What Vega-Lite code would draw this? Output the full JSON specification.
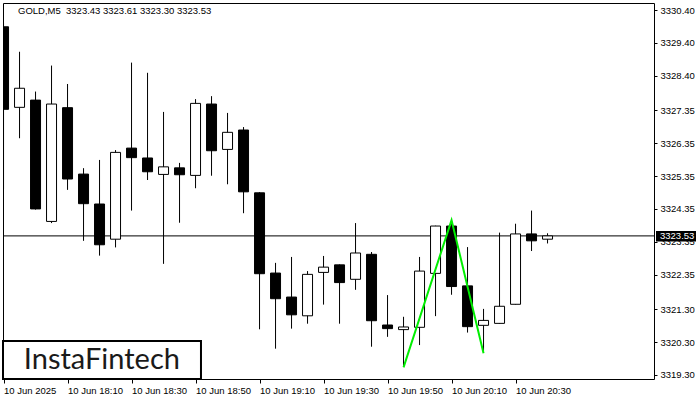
{
  "$schema": "https://vega.github.io/schema/vega-lite/v6.json",
  "width": 651,
  "height": 376,
  "autosize": "none",
  "padding": {"left": 3, "top": 3, "right": 46, "bottom": 21},
  "background": "white",
  "config": {
    "view": {"stroke": "black", "strokeWidth": 1},
    "font": "Liberation Sans",
    "scale": {"continuousPadding": 0},
    "axis": {"labelOverlap": false, "labelFlush": false, "labelBound": false},
    "axisY": {"labelOverlap": false, "labelSeparation": 0}
  },
  "title": {
    "text": "GOLD,M5\u00a0 3323.43 3323.61 3323.30 3323.53",
    "anchor": "start",
    "frame": "group",
    "offset": -17,
    "dx": 15,
    "baseline": "middle",
    "font": "Liberation Sans",
    "fontSize": 9.5,
    "fontWeight": "normal",
    "color": "black"
  },
  "datasets": {
    "candles": [
      {"t": "2025-06-10T17:50", "open": 3329.89, "high": 3330.00, "low": 3324.96, "close": 3327.38},
      {"t": "2025-06-10T17:55", "open": 3327.44, "high": 3329.13, "low": 3326.50, "close": 3328.02},
      {"t": "2025-06-10T18:00", "open": 3327.66, "high": 3327.92, "low": 3324.33, "close": 3324.35},
      {"t": "2025-06-10T18:05", "open": 3323.97, "high": 3328.71, "low": 3323.92, "close": 3327.54},
      {"t": "2025-06-10T18:10", "open": 3327.43, "high": 3328.15, "low": 3324.93, "close": 3325.26},
      {"t": "2025-06-10T18:15", "open": 3325.41, "high": 3325.59, "low": 3323.38, "close": 3324.51},
      {"t": "2025-06-10T18:20", "open": 3324.50, "high": 3325.84, "low": 3322.93, "close": 3323.26},
      {"t": "2025-06-10T18:25", "open": 3323.43, "high": 3326.14, "low": 3323.18, "close": 3326.07},
      {"t": "2025-06-10T18:30", "open": 3326.20, "high": 3328.80, "low": 3324.30, "close": 3325.91},
      {"t": "2025-06-10T18:35", "open": 3325.90, "high": 3328.49, "low": 3325.23, "close": 3325.48},
      {"t": "2025-06-10T18:40", "open": 3325.40, "high": 3327.30, "low": 3322.68, "close": 3325.63},
      {"t": "2025-06-10T18:45", "open": 3325.60, "high": 3325.75, "low": 3323.93, "close": 3325.39},
      {"t": "2025-06-10T18:50", "open": 3325.37, "high": 3327.69, "low": 3324.98, "close": 3327.56},
      {"t": "2025-06-10T18:55", "open": 3327.54, "high": 3327.78, "low": 3325.36, "close": 3326.12},
      {"t": "2025-06-10T19:00", "open": 3326.16, "high": 3327.27, "low": 3325.10, "close": 3326.68},
      {"t": "2025-06-10T19:05", "open": 3326.75, "high": 3326.84, "low": 3324.22, "close": 3324.87},
      {"t": "2025-06-10T19:10", "open": 3324.84, "high": 3324.86, "low": 3320.69, "close": 3322.38},
      {"t": "2025-06-10T19:15", "open": 3322.40, "high": 3322.71, "low": 3320.10, "close": 3321.62},
      {"t": "2025-06-10T19:20", "open": 3321.67, "high": 3322.89, "low": 3320.71, "close": 3321.13},
      {"t": "2025-06-10T19:25", "open": 3321.10, "high": 3322.46, "low": 3320.86, "close": 3322.36},
      {"t": "2025-06-10T19:30", "open": 3322.42, "high": 3322.92, "low": 3321.44, "close": 3322.58},
      {"t": "2025-06-10T19:35", "open": 3322.65, "high": 3322.66, "low": 3320.86, "close": 3322.11},
      {"t": "2025-06-10T19:40", "open": 3322.21, "high": 3323.92, "low": 3321.89, "close": 3323.01},
      {"t": "2025-06-10T19:45", "open": 3322.97, "high": 3323.04, "low": 3320.16, "close": 3320.95},
      {"t": "2025-06-10T19:50", "open": 3320.82, "high": 3321.73, "low": 3320.46, "close": 3320.71},
      {"t": "2025-06-10T19:55", "open": 3320.68, "high": 3321.07, "low": 3319.58, "close": 3320.76},
      {"t": "2025-06-10T20:00", "open": 3320.75, "high": 3322.89, "low": 3320.21, "close": 3322.46},
      {"t": "2025-06-10T20:05", "open": 3322.39, "high": 3323.84, "low": 3321.09, "close": 3323.83},
      {"t": "2025-06-10T20:10", "open": 3323.83, "high": 3324.01, "low": 3321.74, "close": 3321.99},
      {"t": "2025-06-10T20:15", "open": 3322.01, "high": 3323.19, "low": 3320.59, "close": 3320.77},
      {"t": "2025-06-10T20:20", "open": 3320.81, "high": 3321.31, "low": 3320.03, "close": 3320.96},
      {"t": "2025-06-10T20:25", "open": 3320.87, "high": 3323.63, "low": 3320.86, "close": 3321.39},
      {"t": "2025-06-10T20:30", "open": 3321.45, "high": 3323.90, "low": 3321.44, "close": 3323.59},
      {"t": "2025-06-10T20:35", "open": 3323.59, "high": 3324.30, "low": 3323.07, "close": 3323.38},
      {"t": "2025-06-10T20:40", "open": 3323.43, "high": 3323.61, "low": 3323.30, "close": 3323.53}
    ],
    "pattern": [
      {"t": "2025-06-10T19:55", "price": 3319.53},
      {"t": "2025-06-10T20:10", "price": 3324.01},
      {"t": "2025-06-10T20:20", "price": 3319.96}
    ],
    "annotation": [
      {"price": 3323.53, "label": "3323.53"}
    ],
    "logo": [
      {"logo": "InstaFintech", "start": "2025-06-10T17:49:50", "end": "2025-06-10T18:51:42", "mid": "2025-06-10T18:20:44", "bottom": 3319.178, "top": 3320.33, "base": 3319.48}
    ]
  },
  "encoding": {
    "x": {
      "field": "t",
      "type": "temporal",
      "scale": {
        "type": "time",
        "nice": false,
        "padding": 0,
        "domain": [
          {"year": 2025, "month": 6, "date": 10, "hours": 17, "minutes": 49, "seconds": 50},
          {"year": 2025, "month": 6, "date": 10, "hours": 21, "minutes": 13, "seconds": 16}
        ]
      },
      "axis": {
        "title": null,
        "orient": "bottom",
        "domain": false,
        "grid": false,
        "values": [
          {"year": 2025, "month": 6, "date": 10, "hours": 17, "minutes": 50},
          {"year": 2025, "month": 6, "date": 10, "hours": 18, "minutes": 10},
          {"year": 2025, "month": 6, "date": 10, "hours": 18, "minutes": 30},
          {"year": 2025, "month": 6, "date": 10, "hours": 18, "minutes": 50},
          {"year": 2025, "month": 6, "date": 10, "hours": 19, "minutes": 10},
          {"year": 2025, "month": 6, "date": 10, "hours": 19, "minutes": 30},
          {"year": 2025, "month": 6, "date": 10, "hours": 19, "minutes": 50},
          {"year": 2025, "month": 6, "date": 10, "hours": 20, "minutes": 10},
          {"year": 2025, "month": 6, "date": 10, "hours": 20, "minutes": 30}
        ],
        "format": "%d %b %H:%M",
        "labelExpr": "timeFormat(datum.value, '%H:%M') == '17:50' ? '10 Jun 2025' : datum.label",
        "labelAlign": "left",
        "labelBaseline": "top",
        "labelPadding": 2,
        "labelFont": "Liberation Sans",
        "labelFontSize": 9.5,
        "labelColor": "black",
        "tickSize": 4,
        "tickColor": "black"
      }
    }
  },
  "layer": [
    {
      "data": {"name": "annotation"},
      "mark": {"type": "rule", "color": "black", "strokeWidth": 1},
      "encoding": {
        "x": null,
        "y": {
          "field": "price",
          "type": "quantitative",
          "scale": {"domain": [3319.178, 3330.613], "nice": false, "zero": false},
          "axis": {"title": null, "orient": "right", "domain": false, "grid": false, "values": [3319.30, 3320.30, 3321.30, 3322.35, 3323.35, 3324.35, 3325.35, 3326.35, 3327.35, 3328.40, 3329.40, 3330.40], "format": ".2f", "labelFont": "Liberation Sans", "labelFontSize": 9.5, "labelColor": "black", "labelPadding": 3, "tickSize": 3, "tickColor": "black", "labelOverlap": false, "labelSeparation": 0}
        }
      }
    },
    {
      "data": {"name": "candles"},
      "mark": {"type": "rule", "color": "black", "strokeWidth": 1, "clip": true},
      "encoding": {
        "y": {"field": "low", "type": "quantitative", "axis": {"title": null, "orient": "right", "domain": false, "grid": false, "values": [3319.30, 3320.30, 3321.30, 3322.35, 3323.35, 3324.35, 3325.35, 3326.35, 3327.35, 3328.40, 3329.40, 3330.40], "format": ".2f", "labelFont": "Liberation Sans", "labelFontSize": 9.5, "labelColor": "black", "labelPadding": 3, "tickSize": 3, "tickColor": "black", "labelOverlap": false, "labelSeparation": 0}},
        "y2": {"field": "high"}
      }
    },
    {
      "data": {"name": "candles"},
      "mark": {"type": "bar", "size": 10, "stroke": "black", "strokeWidth": 1, "clip": true, "orient": "vertical"},
      "encoding": {
        "y": {"field": "open", "type": "quantitative", "axis": {"title": null, "orient": "right", "domain": false, "grid": false, "values": [3319.30, 3320.30, 3321.30, 3322.35, 3323.35, 3324.35, 3325.35, 3326.35, 3327.35, 3328.40, 3329.40, 3330.40], "format": ".2f", "labelFont": "Liberation Sans", "labelFontSize": 9.5, "labelColor": "black", "labelPadding": 3, "tickSize": 3, "tickColor": "black", "labelOverlap": false, "labelSeparation": 0}},
        "y2": {"field": "close"},
        "fill": {"condition": {"test": "datum.close < datum.open", "value": "black"}, "value": "white"}
      }
    },
    {
      "data": {"name": "pattern"},
      "mark": {"type": "line", "color": "#00ee00", "strokeWidth": 2, "clip": true},
      "encoding": {
        "y": {"field": "price", "type": "quantitative", "axis": {"title": null, "orient": "right", "domain": false, "grid": false, "values": [3319.30, 3320.30, 3321.30, 3322.35, 3323.35, 3324.35, 3325.35, 3326.35, 3327.35, 3328.40, 3329.40, 3330.40], "format": ".2f", "labelFont": "Liberation Sans", "labelFontSize": 9.5, "labelColor": "black", "labelPadding": 3, "tickSize": 3, "tickColor": "black", "labelOverlap": false, "labelSeparation": 0}}
      }
    },
    {
      "data": {"name": "logo"},
      "mark": {"type": "rect", "fill": "white", "stroke": "black", "strokeWidth": 2},
      "encoding": {
        "x": {"field": "start", "type": "temporal"},
        "x2": {"field": "end"},
        "y": {"field": "bottom", "type": "quantitative", "axis": {"title": null, "orient": "right", "domain": false, "grid": false, "values": [3319.30, 3320.30, 3321.30, 3322.35, 3323.35, 3324.35, 3325.35, 3326.35, 3327.35, 3328.40, 3329.40, 3330.40], "format": ".2f", "labelFont": "Liberation Sans", "labelFontSize": 9.5, "labelColor": "black", "labelPadding": 3, "tickSize": 3, "tickColor": "black", "labelOverlap": false, "labelSeparation": 0}},
        "y2": {"field": "top"}
      }
    },
    {
      "data": {"name": "logo"},
      "mark": {"type": "text", "font": "Lato", "fontSize": 29, "fontWeight": "normal", "color": "#1a1a1a", "align": "center", "baseline": "alphabetic"},
      "encoding": {
        "text": {"field": "logo"},
        "x": {"field": "mid", "type": "temporal"},
        "y": {"field": "base", "type": "quantitative", "axis": {"title": null, "orient": "right", "domain": false, "grid": false, "values": [3319.30, 3320.30, 3321.30, 3322.35, 3323.35, 3324.35, 3325.35, 3326.35, 3327.35, 3328.40, 3329.40, 3330.40], "format": ".2f", "labelFont": "Liberation Sans", "labelFontSize": 9.5, "labelColor": "black", "labelPadding": 3, "tickSize": 3, "tickColor": "black", "labelOverlap": false, "labelSeparation": 0}}
      }
    },
    {
      "data": {"name": "annotation"},
      "mark": {"type": "rect", "fill": "black", "xOffset": 2, "x2Offset": 42, "yOffset": -5, "y2Offset": 5.5},
      "encoding": {
        "x": {"value": "width"},
        "x2": {"value": "width"},
        "y": {"field": "price", "type": "quantitative", "axis": {"title": null, "orient": "right", "domain": false, "grid": false, "values": [3319.30, 3320.30, 3321.30, 3322.35, 3323.35, 3324.35, 3325.35, 3326.35, 3327.35, 3328.40, 3329.40, 3330.40], "format": ".2f", "labelFont": "Liberation Sans", "labelFontSize": 9.5, "labelColor": "black", "labelPadding": 3, "tickSize": 3, "tickColor": "black", "labelOverlap": false, "labelSeparation": 0}},
        "y2": {"field": "price"}
      }
    },
    {
      "data": {"name": "annotation"},
      "mark": {"type": "text", "font": "Liberation Sans", "fontSize": 9.5, "color": "white", "align": "left", "baseline": "middle", "dx": 6},
      "encoding": {
        "text": {"field": "label"},
        "x": {"value": "width"},
        "y": {"field": "price", "type": "quantitative", "axis": {"title": null, "orient": "right", "domain": false, "grid": false, "values": [3319.30, 3320.30, 3321.30, 3322.35, 3323.35, 3324.35, 3325.35, 3326.35, 3327.35, 3328.40, 3329.40, 3330.40], "format": ".2f", "labelFont": "Liberation Sans", "labelFontSize": 9.5, "labelColor": "black", "labelPadding": 3, "tickSize": 3, "tickColor": "black", "labelOverlap": false, "labelSeparation": 0}}
      }
    }
  ]
}
